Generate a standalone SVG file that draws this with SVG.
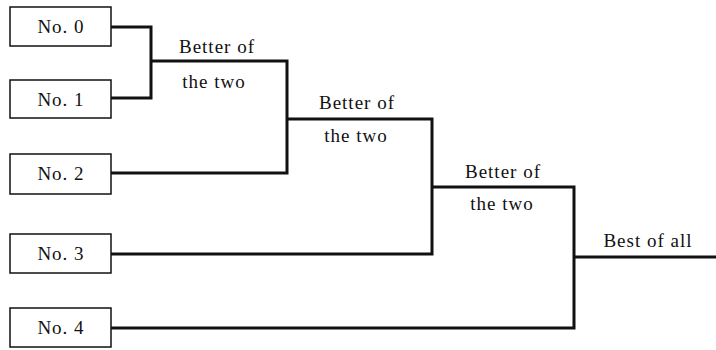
<svg xmlns="http://www.w3.org/2000/svg" width="716" height="350" viewBox="0 0 716 350">
<style>
.box{fill:#fff;stroke:#111;stroke-width:1.5}
.t{font-family:"Liberation Serif","Times New Roman",serif;font-size:19px;letter-spacing:1px;fill:#111;text-anchor:middle}
.c{fill:none;stroke:#111;stroke-width:3;stroke-linejoin:miter}
</style>
<rect width="716" height="350" fill="#fff"/>
<g id="connectors">
<polyline class="c" points="111,27 151,27 151,98 111,98"/>
<polyline class="c" points="151,61 287,61 287,173 111,173"/>
<polyline class="c" points="287,119 432,119 432,254 111,254"/>
<polyline class="c" points="432,187 574,187 574,328 111,328"/>
<line class="c" x1="574" y1="257" x2="716" y2="257"/>
</g>
<g id="n0"><rect class="box" x="10" y="7" width="101" height="39"/><text class="t" x="61" y="33">No. 0</text></g>
<g id="n1"><rect class="box" x="10" y="80" width="101" height="38"/><text class="t" x="61" y="106">No. 1</text></g>
<g id="n2"><rect class="box" x="10" y="154" width="101" height="40"/><text class="t" x="61" y="180">No. 2</text></g>
<g id="n3"><rect class="box" x="10" y="234" width="101" height="39"/><text class="t" x="61" y="260">No. 3</text></g>
<g id="n4"><rect class="box" x="10" y="308" width="101" height="39"/><text class="t" x="61" y="334">No. 4</text></g>
<g id="labels">
<text class="t" x="217" y="53">Better of</text>
<text class="t" x="214" y="88">the two</text>
<text class="t" x="357" y="109">Better of</text>
<text class="t" x="356" y="142">the two</text>
<text class="t" x="503" y="178">Better of</text>
<text class="t" x="502" y="210">the two</text>
<text class="t" x="648" y="247">Best of all</text>
</g>
</svg>
